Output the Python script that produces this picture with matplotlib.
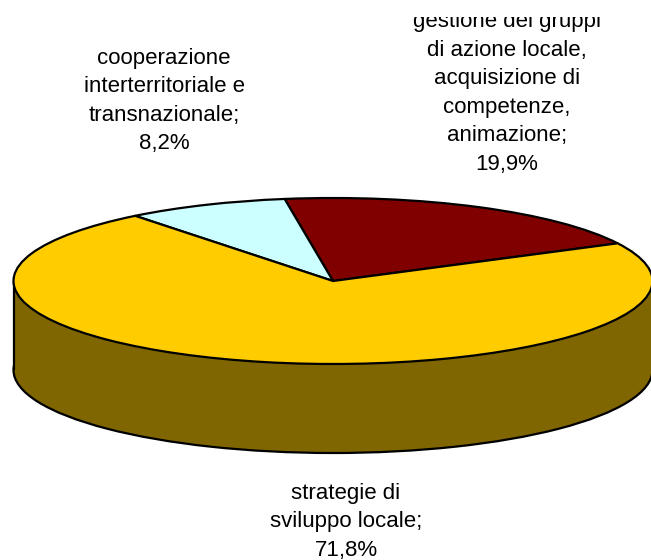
from matplotlib import pyplot as plt
from matplotlib.patches import Rectangle

labels = ["gestione dei gruppi\ndi azione locale,\nacquisizione di\ncompetenze,\nanimazione;\n19,9%",
          "cooperazione\ninterterritoriale e\ntransnazionale;\n8,2%",
          "strategie di\nsviluppo locale;\n71,8%"]
values = [19.9, 8.2, 71.8]
colors = ["#800000", "#CCFFFF", "#FFCC00"]
wallColor = "#806600"

W, H = 651, 560
cx, cy, rx, ry = 333, 281, 319.5, 83
depth = 89 / ry

plt.rcParams['font.family'] = ['Liberation Sans', 'DejaVu Sans']
fig = plt.figure(figsize=(W / 100, H / 100), dpi=100)

# pie is drawn in unit circle space, unequal aspect squashes it to the ellipse
ax = fig.add_axes([0, 0, 1, 1])
edge = {'edgecolor': 'black', 'linewidth': 1.6}
bottom, _ = ax.pie([1], colors=[wallColor], center=(0, -depth), startangle=90,
                   wedgeprops=edge, frame=True)
ax.add_patch(Rectangle((-1, -depth), 2, depth, facecolor=wallColor, edgecolor='none'))
ax.plot([-1, -1], [0, -depth], color='black', lw=1.6, solid_capstyle='butt')
ax.plot([1, 1], [0, -depth], color='black', lw=1.6, solid_capstyle='butt')
top, _ = ax.pie(values, colors=colors, startangle=27, wedgeprops=edge, frame=True)
for w in top:
    w.set_zorder(5)
    w.set_joinstyle('round')
ax.set_aspect('auto')
ax.set_xlim(-cx / rx, (W - cx) / rx)
ax.set_ylim((cy - H) / ry, cy / ry)
ax.axis('off')

# overlay in pixel coords for the labels
tx = fig.add_axes([0, 0, 1, 1], facecolor='none')
tx.set_xlim(0, W)
tx.set_ylim(H, 0)
tx.axis('off')
# the first label runs off the top of the chart area in the original
clip = Rectangle((0, 17), W, H - 17, transform=tx.transData)
pos = [(507, 93), (164, 101), (346, 522)]
for s, (x, y) in zip(labels, pos):
    t = tx.text(x, y, s, ha='center', va='center', fontsize=16, color='black',
                linespacing=1.47, multialignment='center')
    t.set_clip_path(clip)
    t.set_clip_on(True)

plt.savefig("out.png", dpi=100)
